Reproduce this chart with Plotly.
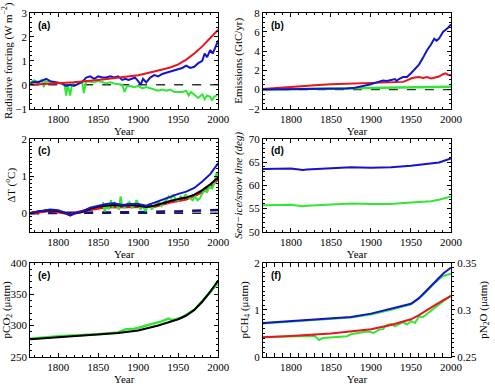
import plotly.graph_objects as go

# ---------------- data ----------------
# (a) radiative forcing
a_red_yr = [1765, 1780, 1800, 1820, 1850, 1870, 1900, 1920, 1940, 1950, 1960, 1970, 1980, 1990, 2000]
a_red = [0.0, 0.02, 0.05, 0.1, 0.2, 0.28, 0.4, 0.55, 0.72, 0.85, 1.05, 1.3, 1.6, 1.95, 2.3]
a_blue_yr = [1765, 1770, 1775, 1780, 1785, 1790, 1795, 1800, 1805, 1810, 1815, 1820, 1825, 1830, 1835, 1840, 1845,
             1850, 1855, 1860, 1865, 1870, 1875, 1880, 1884, 1888, 1892, 1896, 1900, 1903, 1906, 1910, 1915, 1920,
             1925, 1930, 1935, 1940, 1945, 1950, 1955, 1960, 1965, 1970, 1975, 1980, 1983, 1986, 1990, 1993, 1996, 2000]
a_blue = [0.05, 0.12, 0.1, 0.18, 0.25, 0.15, 0.12, 0.08, 0.05, -0.05, 0.0, -0.05, 0.05, 0.12, 0.3, 0.35, 0.25,
          0.35, 0.3, 0.3, 0.35, 0.3, 0.35, 0.2, 0.25, 0.2, 0.25, 0.3, 0.15, 0.0, 0.25, 0.1, 0.3, 0.4,
          0.35, 0.45, 0.5, 0.55, 0.6, 0.65, 0.7, 0.8, 0.7, 0.75, 0.9, 1.0, 1.3, 1.15, 1.45, 1.3, 1.55, 1.85]
a_green_yr = [1765, 1770, 1775, 1780, 1782, 1784, 1790, 1795, 1800, 1805, 1808, 1810, 1812, 1815, 1817, 1820, 1825,
              1830, 1832, 1835, 1840, 1845, 1850, 1855, 1860, 1865, 1870, 1875, 1880, 1883, 1886, 1890, 1895, 1900,
              1905, 1910, 1915, 1920, 1925, 1930, 1935, 1940, 1945, 1950, 1955, 1960, 1963, 1966, 1970, 1975, 1980,
              1983, 1986, 1990, 1992, 1995, 2000]
a_green = [0.1, 0.18, 0.12, 0.2, -0.1, 0.15, 0.12, 0.1, 0.08, 0.05, 0.0, -0.45, 0.0, -0.45, 0.0, 0.1, 0.1,
           0.12, -0.35, 0.15, 0.12, 0.1, 0.15, 0.12, 0.05, 0.1, 0.05, 0.02, 0.0, -0.3, -0.05, -0.05, -0.1, -0.05,
           -0.15, -0.1, -0.15, -0.2, -0.25, -0.2, -0.25, -0.2, -0.3, -0.3, -0.3, -0.25, -0.45, -0.3, -0.4, -0.55, -0.4,
           -0.6, -0.45, -0.5, -0.65, -0.5, -0.4]

# (b) emissions
b_blue_yr = [1765, 1800, 1850, 1870, 1880, 1890, 1900, 1905, 1910, 1915, 1920, 1925, 1930, 1932, 1935, 1940, 1945,
             1950, 1955, 1960, 1965, 1970, 1975, 1979, 1982, 1985, 1990, 1993, 1996, 2000]
b_blue = [0.0, 0.02, 0.05, 0.12, 0.2, 0.35, 0.55, 0.7, 0.85, 0.95, 0.9, 1.0, 1.1, 0.9, 1.1, 1.3, 1.3,
          1.7, 2.1, 2.6, 3.3, 4.1, 4.7, 5.3, 5.1, 5.3, 6.0, 6.2, 6.4, 6.8]
b_red_yr = [1765, 1800, 1830, 1850, 1870, 1880, 1900, 1920, 1940, 1945, 1950, 1955, 1960, 1965, 1970, 1975, 1980,
            1985, 1990, 1993, 1996, 2000]
b_red = [0.05, 0.3, 0.45, 0.55, 0.6, 0.7, 0.75, 0.8, 0.8, 0.95, 1.15, 1.25, 1.3, 1.2, 1.3, 1.15, 1.25,
         1.35, 1.6, 1.7, 1.55, 1.5]
b_green_yr = [1765, 1850, 1900, 1950, 2000]
b_green = [0.0, 0.1, 0.15, 0.22, 0.3]

# (c) temperature change
c_blue_yr = [1765, 1775, 1790, 1800, 1810, 1815, 1820, 1830, 1840, 1850, 1860, 1870, 1880, 1890, 1900, 1910, 1920,
             1930, 1940, 1950, 1960, 1970, 1980, 1990, 2000]
c_blue = [0.0, 0.05, 0.1, 0.08, 0.0, -0.05, 0.0, 0.05, 0.15, 0.2, 0.25, 0.27, 0.22, 0.25, 0.25, 0.2, 0.28,
          0.35, 0.45, 0.52, 0.58, 0.68, 0.85, 1.05, 1.35]
c_black_yr = [1765, 1775, 1790, 1800, 1810, 1815, 1820, 1830, 1840, 1850, 1860, 1870, 1880, 1890, 1900, 1910, 1920,
              1930, 1940, 1950, 1960, 1970, 1980, 1990, 2000]
c_black = [0.0, 0.05, 0.08, 0.06, 0.0, -0.05, 0.0, 0.03, 0.12, 0.18, 0.2, 0.22, 0.2, 0.22, 0.2, 0.17, 0.2,
           0.27, 0.33, 0.38, 0.42, 0.5, 0.62, 0.78, 0.97]
c_red_yr = [1765, 1790, 1810, 1815, 1820, 1840, 1860, 1880, 1900, 1920, 1940, 1960, 1980, 1990, 2000]
c_red = [0.0, 0.07, 0.0, -0.05, 0.0, 0.1, 0.17, 0.17, 0.17, 0.18, 0.3, 0.38, 0.57, 0.72, 0.92]
c_green_yr = [1856, 1858, 1861, 1863, 1866, 1868, 1870, 1873, 1876, 1878, 1880, 1883, 1886, 1889, 1892, 1895, 1898,
              1900, 1903, 1906, 1909, 1911, 1914, 1917, 1920, 1923, 1926, 1929, 1932, 1935, 1938, 1941, 1944, 1947,
              1950, 1953, 1956, 1959, 1962, 1965, 1968, 1971, 1974, 1977, 1980, 1983, 1986, 1989, 1992, 1995, 1998, 2000]
c_green = [0.3, 0.05, 0.25, 0.1, 0.35, 0.15, 0.3, 0.2, 0.1, 0.45, 0.2, 0.15, 0.25, 0.3, 0.15, 0.2, 0.35,
           0.25, 0.1, 0.2, 0.05, 0.15, 0.25, 0.1, 0.2, 0.25, 0.3, 0.2, 0.3, 0.35, 0.45, 0.4, 0.5, 0.35,
           0.35, 0.45, 0.4, 0.5, 0.45, 0.4, 0.35, 0.45, 0.35, 0.4, 0.55, 0.65, 0.55, 0.75, 0.65, 0.8, 1.1, 0.95]
c_dash_yr = [1765, 1850, 1900, 1950, 2000]
c_dash = [0.0, 0.01, 0.03, 0.05, 0.09]

# (d) sea-ice/snow line
d_yr = [1765, 1780, 1800, 1810, 1815, 1820, 1850, 1875, 1900, 1925, 1950, 1975, 1985, 2000]
d_blue = [63.5, 63.6, 63.6, 63.4, 63.3, 63.4, 63.7, 63.9, 63.8, 63.9, 64.2, 64.6, 64.9, 65.8]
d_green = [55.7, 55.8, 55.8, 55.6, 55.5, 55.6, 55.9, 56.1, 56.0, 56.0, 56.3, 56.6, 56.9, 57.6]

# (e) pCO2
e_black_yr = [1765, 1800, 1850, 1875, 1900, 1925, 1950, 1960, 1970, 1980, 1990, 2000]
e_black = [278, 281, 285, 288, 292, 300, 310, 316, 325, 338, 354, 372]
e_green_yr = [1765, 1800, 1850, 1875, 1880, 1885, 1895, 1900, 1910, 1920, 1930, 1938, 1942, 1947, 1955, 1960,
              1970, 1980, 1990, 2000]
e_green = [279, 283, 286, 289, 292, 294, 295, 296, 300, 303, 307, 311, 309, 310, 313, 317, 325, 339, 353, 368]

# (f) pCH4 (left) and pN2O (right)
f_ch4_yr = [1765, 1800, 1850, 1875, 1900, 1925, 1950, 1960, 1970, 1980, 1990, 2000]
f_ch4_model = [0.72, 0.76, 0.81, 0.85, 0.92, 1.02, 1.13, 1.25, 1.42, 1.6, 1.77, 1.9]
f_ch4_obs = [0.71, 0.75, 0.8, 0.84, 0.9, 1.0, 1.12, 1.24, 1.4, 1.58, 1.72, 1.77]
f_n2o_yr = [1765, 1800, 1850, 1875, 1900, 1925, 1950, 1960, 1970, 1980, 1990, 2000]
f_n2o_model = [0.2710, 0.2722, 0.2748, 0.2768, 0.2795, 0.2840, 0.2900, 0.2945, 0.3000, 0.3050, 0.3100, 0.3150]
f_n2o_obs_yr = [1765, 1800, 1805, 1830, 1835, 1840, 1850, 1860, 1870, 1875, 1885, 1895, 1900, 1903, 1910, 1915,
                1920, 1925, 1930, 1935, 1940, 1945, 1950, 1955, 1960, 1965, 1970, 1975, 1980, 1990, 2000]
f_n2o_obs = [0.2710, 0.2724, 0.2720, 0.2722, 0.2680, 0.2700, 0.2705, 0.2712, 0.2720, 0.2740, 0.2755, 0.2770, 0.2765,
             0.2752, 0.2790, 0.2795, 0.2840, 0.2850, 0.2825, 0.2850, 0.2870, 0.2845, 0.2880, 0.2860, 0.2930, 0.2925,
             0.2960, 0.2990, 0.3025, 0.3090, 0.3150]

# ---------------- styling ----------------
RED = "#e8141e"
BLUE = "#1414cc"
GREEN = "#33e633"
NAVY = "#101080"
SERIF = "Liberation Serif, Times New Roman, serif"
LW = 2

W, H = 495, 391
xL = [28 / W, 222 / W]
xR = [268 / W, 462 / W]
rows = [[(391 - 106) / H, (391 - 7) / H], [(391 - 233) / H, (391 - 137) / H], [(391 - 362) / H, (391 - 265) / H]]

fig = go.Figure()


def line(x, y, color, xa, ya, dash=None, width=LW):
    fig.add_trace(go.Scatter(x=x, y=y, mode="lines", line=dict(color=color, width=width, dash=dash),
                             xaxis=xa, yaxis=ya, showlegend=False, hoverinfo="skip"))


# (a)
line([1765, 2000], [0, 0], "#333333", "x", "y", dash="dash", width=1.3)
line(a_green_yr, a_green, GREEN, "x", "y")
line(a_blue_yr, a_blue, BLUE, "x", "y")
line(a_red_yr, a_red, RED, "x", "y")
# (b)
line([1765, 2000], [0, 0], "#333333", "x2", "y2", dash="dash", width=1.3)
line(b_green_yr, b_green, GREEN, "x2", "y2", width=2.5)
line(b_red_yr, b_red, RED, "x2", "y2")
line(b_blue_yr, b_blue, BLUE, "x2", "y2")
# (c)
line([1765, 2000], [0, 0], "#222222", "x3", "y3", dash="dash", width=1.5)
line(c_dash_yr, c_dash, NAVY, "x3", "y3", dash="dash", width=2.5)
line(c_red_yr, c_red, RED, "x3", "y3", width=3)
line(c_green_yr, c_green, GREEN, "x3", "y3")
line(c_black_yr, c_black, "black", "x3", "y3")
line(c_blue_yr, c_blue, BLUE, "x3", "y3")
# (d)
line(d_yr, d_blue, BLUE, "x4", "y4")
line(d_yr, d_green, GREEN, "x4", "y4")
# (e)
line(e_green_yr, e_green, GREEN, "x5", "y5", width=2.5)
line(e_black_yr, e_black, "black", "x5", "y5")
# (f)
line(f_n2o_obs_yr, f_n2o_obs, GREEN, "x6", "y7")
line(f_n2o_yr, f_n2o_model, RED, "x6", "y7")
line(f_ch4_yr, f_ch4_obs, GREEN, "x6", "y6")
line(f_ch4_yr, f_ch4_model, BLUE, "x6", "y6")

tickfont = dict(family=SERIF, size=11, color="black")
titlefont = dict(family=SERIF, size=11, color="black")


def xax(domain, anchor):
    return dict(domain=domain, anchor=anchor, range=[1765, 2000], tickvals=[1800, 1850, 1900, 1950, 2000],
                ticks="inside", ticklen=4, tickcolor="black", showline=True, linecolor="black", linewidth=1,
                mirror="allticks", showgrid=False, zeroline=False, tickfont=tickfont,
                title=dict(text="Year", font=titlefont, standoff=1),
                minor=dict(dtick=10, ticks="inside", ticklen=2, tickcolor="black", showgrid=False))


def yax(domain, anchor, rng, tickvals, title, minor_dtick):
    return dict(domain=domain, anchor=anchor, range=rng, tickvals=tickvals,
                ticks="inside", ticklen=4, tickcolor="black", showline=True, linecolor="black", linewidth=1,
                mirror="allticks", showgrid=False, zeroline=False, tickfont=tickfont,
                title=dict(text=title, font=titlefont, standoff=3),
                minor=dict(dtick=minor_dtick, ticks="inside", ticklen=2, tickcolor="black", showgrid=False))


layout = dict(
    width=W, height=H, margin=dict(l=0, r=0, t=0, b=0),
    paper_bgcolor="white", plot_bgcolor="white", showlegend=False,
    xaxis=xax(xL, "y"), yaxis=yax(rows[0], "x", [-1, 3], [-1, 0, 1, 2, 3], "Radiative forcing (W m<sup>−2</sup>)", 0.2),
    xaxis2=xax(xR, "y2"), yaxis2=yax(rows[0], "x2", [-2, 8], [-2, 0, 2, 4, 6, 8], "Emissions (GtC/yr)", 0.5),
    xaxis3=xax(xL, "y3"), yaxis3=yax(rows[1], "x3", [-0.5, 2], [0, 1, 2], "ΔT (<sup>o</sup>C)", 0.1),
    xaxis4=xax(xR, "y4"), yaxis4=yax(rows[1], "x4", [50, 70], [50, 55, 60, 65, 70], "<i>Sea−ice/snow line (deg)</i>", 1),
    xaxis5=xax(xL, "y5"), yaxis5=yax(rows[2], "x5", [250, 400], [250, 300, 350, 400], "pCO<sub>2</sub> (μatm)", 10),
    xaxis6=xax(xR, "y6"), yaxis6=yax(rows[2], "x6", [0, 2], [0, 1, 2], "pCH<sub>4</sub> (μatm)", 0.1),
)
layout["yaxis6"]["mirror"] = False
y7 = yax(rows[2], "x6", [0.25, 0.35], [0.25, 0.3, 0.35], "pN<sub>2</sub>O (μatm)", 0.005)
y7.update(overlaying="y6", side="right", mirror=False, ticks="outside", ticklen=3)
y7["minor"]["ticks"] = "outside"
layout["yaxis7"] = y7
fig.update_layout(**layout)

labels = [("(a)", "x", "y"), ("(b)", "x2", "y2"), ("(c)", "x3", "y3"),
          ("(d)", "x4", "y4"), ("(e)", "x5", "y5"), ("(f)", "x6", "y6")]
for txt, xa, ya in labels:
    fig.add_annotation(text="<b>" + txt + "</b>", xref=xa + " domain", yref=ya + " domain", x=0.03, y=0.95,
                       xanchor="left", yanchor="top", showarrow=False,
                       font=dict(family="Liberation Sans", size=10, color="black"))

fig.write_html("out.html")
